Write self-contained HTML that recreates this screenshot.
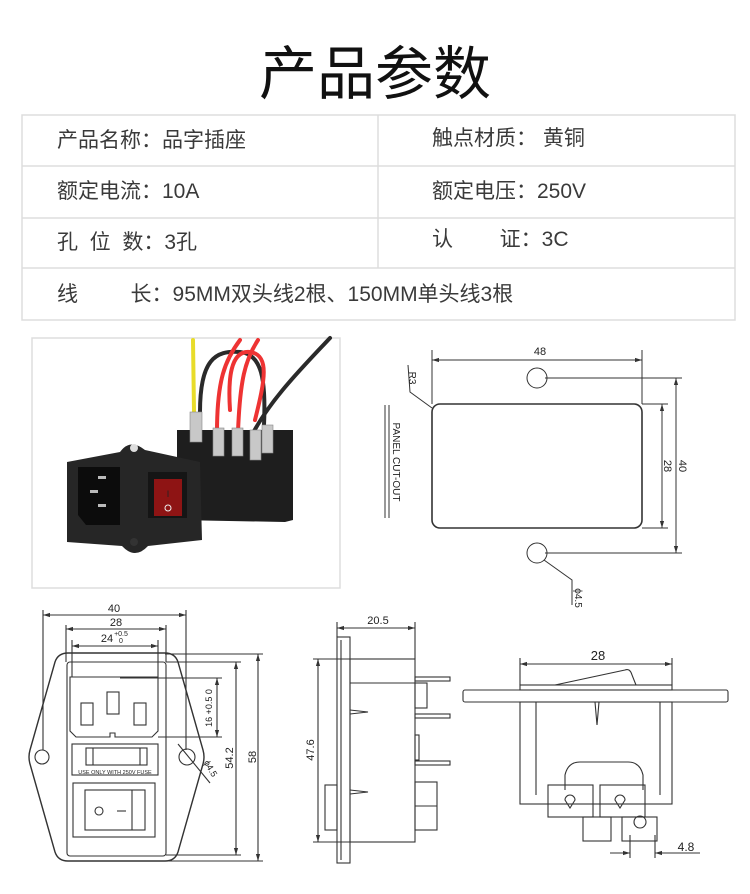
<!DOCTYPE html>
<html><head><meta charset="utf-8"><style>
html,body{margin:0;padding:0;background:#fff;}
svg{display:block;}
.t{font-family:"Liberation Sans","Noto Sans CJK SC",sans-serif;fill:#3a3a3a;white-space:pre;}
.d{font-family:"Liberation Sans",sans-serif;fill:#222;}
</style></head><body>
<svg width="750" height="894" viewBox="0 0 750 894" xmlns="http://www.w3.org/2000/svg">
<defs>
<marker id="a" viewBox="0 0 10 10" refX="10" refY="5" markerWidth="7" markerHeight="7" orient="auto-start-reverse" markerUnits="userSpaceOnUse"><path d="M0 2 L10 5 L0 8 Z" fill="#333"/></marker>
</defs>
<text x="375" y="94" text-anchor="middle" font-size="58" class="t" style="fill:#111">产品参数</text>
<g stroke="#ddd" stroke-width="1.5" fill="none">
<rect x="22" y="115" width="713" height="205"/>
<line x1="22" y1="166" x2="735" y2="166"/><line x1="22" y1="218" x2="735" y2="218"/><line x1="22" y1="268" x2="735" y2="268"/>
<line x1="378" y1="115" x2="378" y2="268"/>
</g>
<g class="t" font-size="21">
<text x="57" y="147" xml:space="preserve">产品名称：品字插座</text>
<text x="432" y="145" xml:space="preserve">触点材质： 黄铜</text>
<text x="57" y="198" xml:space="preserve">额定电流：10A</text>
<text x="432" y="198" xml:space="preserve">额定电压：250V</text>
<text x="57" y="249" xml:space="preserve">孔  位  数：3孔</text>
<text x="432" y="246" xml:space="preserve">认        证：3C</text>
<text x="57" y="301" xml:space="preserve">线         长：95MM双头线2根、150MM单头线3根</text>
</g>
<!-- photo -->
<rect x="32" y="338" width="308" height="250" fill="#fff" stroke="#ddd" stroke-width="1.5"/>
<g fill="none" stroke-width="4" stroke-linecap="round">
<path d="M193 340 L194 412" stroke="#e8dc2a"/>
<path d="M200 412 C200 360 215 350 240 352 C262 354 266 380 264 425" stroke="#2a2a2a"/>
<path d="M217 432 C217 380 225 360 240 340" stroke="#e33"/>
<path d="M238 432 C240 380 245 360 258 340" stroke="#e33"/>
<path d="M255 420 C265 380 270 355 250 352 C230 350 228 380 230 410" stroke="#e33"/>
<path d="M252 435 C270 400 300 370 330 338" stroke="#2a2a2a"/>
</g>
<path d="M177 430 L293 430 L293 520 L285 522 L177 520 Z" fill="#1e1e1e"/>
<g fill="#c8c8c8" stroke="#888" stroke-width="0.6">
<rect x="190" y="412" width="12" height="30"/><rect x="213" y="428" width="11" height="28"/>
<rect x="232" y="428" width="11" height="28"/><rect x="250" y="430" width="11" height="30"/><rect x="262" y="425" width="11" height="28"/>
</g>
<path d="M67 462 L120 452 Q130 438 145 450 L200 462 L202 540 L148 546 Q135 560 122 546 L67 542 Z" fill="#262626"/>
<circle cx="134" cy="448" r="4" fill="#ddd"/>
<path d="M78 467 L120 467 L120 525 L86 525 L78 515 Z" fill="#0c0c0c"/>
<g fill="#bbb"><rect x="98" y="476" width="8" height="3"/><rect x="90" y="490" width="8" height="3"/><rect x="98" y="504" width="8" height="3"/></g>
<rect x="148" y="472" width="39" height="46" fill="#151515"/>
<rect x="154" y="479" width="28" height="37" fill="#8e1414"/>
<text x="168" y="497" text-anchor="middle" font-size="9" fill="#eee" class="d">I</text>
<circle cx="168" cy="508" r="3" fill="none" stroke="#eee" stroke-width="1"/>
<circle cx="134" cy="542" r="4" fill="#333"/>
<!-- panel cutout -->
<g stroke="#333" stroke-width="1" fill="none">
<rect x="432" y="404" width="210" height="124" rx="8" stroke-width="1.6"/>
<circle cx="537" cy="378" r="10"/><circle cx="537" cy="553" r="10"/>
<line x1="432" y1="350" x2="432" y2="404"/><line x1="642" y1="350" x2="642" y2="404"/>
<line x1="432" y1="360" x2="642" y2="360" marker-start="url(#a)" marker-end="url(#a)"/>
<line x1="545" y1="378" x2="682" y2="378"/><line x1="545" y1="553" x2="682" y2="553"/>
<line x1="642" y1="404" x2="668" y2="404"/><line x1="642" y1="528" x2="668" y2="528"/>
<line x1="662" y1="404" x2="662" y2="528" marker-start="url(#a)" marker-end="url(#a)"/><line x1="676" y1="378" x2="676" y2="553" marker-start="url(#a)" marker-end="url(#a)"/>
<path d="M408 365 L410 392 L432 408"/>
<path d="M544 560 L572 580 L572 605"/>
<line x1="385" y1="405" x2="385" y2="518"/><line x1="389" y1="405" x2="389" y2="518"/>
</g>
<text x="540" y="355" font-size="11" text-anchor="middle" class="d">48</text>
<text transform="translate(664,466) rotate(90)" font-size="11" text-anchor="middle" class="d">28</text>
<text transform="translate(679,466) rotate(90)" font-size="11" text-anchor="middle" class="d">40</text>
<text transform="translate(409,378) rotate(90)" font-size="10" text-anchor="middle" class="d">R3</text>
<text transform="translate(393,462) rotate(90)" font-size="10" text-anchor="middle" class="d">PANEL CUT-OUT</text>
<text transform="translate(575,598) rotate(90)" font-size="10" text-anchor="middle" class="d">ϕ4.5</text>
<!-- front drawing -->
<g stroke="#333" stroke-width="1.1" fill="none">
<path d="M68 653 L165 653 Q175 653 178 662 L203 750 Q205 757 203 764 L178 852 Q175 861 165 861 L68 861 Q58 861 55 852 L30 764 Q28 757 30 750 L55 662 Q58 653 68 653 Z" stroke-width="1.4"/>
<rect x="67" y="662" width="99" height="194" rx="3"/>
<circle cx="42" cy="757" r="7"/><circle cx="187" cy="757" r="8"/>
<path d="M70 677 L158 677 L158 731 L152 737 L115 737 L115 733 L110 733 L110 737 L76 737 L70 731 Z"/>
<rect x="81" y="703" width="12" height="22"/><rect x="107" y="692" width="12" height="22"/><rect x="134" y="703" width="12" height="22"/>
<rect x="72" y="744" width="86" height="31"/>
<rect x="86" y="748" width="61" height="17"/><line x1="93" y1="748" x2="93" y2="765"/><line x1="140" y1="748" x2="140" y2="765"/>
<rect x="73" y="783" width="82" height="54"/><rect x="85" y="790" width="60" height="40"/>
<line x1="132" y1="790" x2="132" y2="830"/><circle cx="99" cy="811" r="4"/><line x1="117" y1="811" x2="126" y2="811"/>
<line x1="43" y1="610" x2="43" y2="750"/><line x1="186" y1="610" x2="186" y2="750"/><line x1="43" y1="615" x2="186" y2="615" marker-start="url(#a)" marker-end="url(#a)"/>
<line x1="66" y1="625" x2="66" y2="662"/><line x1="166" y1="625" x2="166" y2="662"/><line x1="66" y1="629" x2="166" y2="629" marker-start="url(#a)" marker-end="url(#a)"/>
<line x1="72" y1="640" x2="72" y2="677"/><line x1="158" y1="640" x2="158" y2="677"/><line x1="72" y1="646" x2="158" y2="646" marker-start="url(#a)" marker-end="url(#a)"/>
<line x1="120" y1="678" x2="222" y2="678"/><line x1="158" y1="737" x2="222" y2="737"/><line x1="217" y1="678" x2="217" y2="737" marker-start="url(#a)" marker-end="url(#a)"/>
<line x1="166" y1="662" x2="241" y2="662"/><line x1="166" y1="855" x2="241" y2="855"/><line x1="236" y1="662" x2="236" y2="855" marker-start="url(#a)" marker-end="url(#a)"/>
<line x1="165" y1="654" x2="263" y2="654"/><line x1="165" y1="861" x2="263" y2="861"/><line x1="258" y1="654" x2="258" y2="861" marker-start="url(#a)" marker-end="url(#a)"/>
<line x1="178" y1="744" x2="210" y2="783"/>
</g>
<text x="114" y="612" font-size="11" text-anchor="middle" class="d">40</text>
<text x="116" y="626" font-size="11" text-anchor="middle" class="d">28</text>
<text x="107" y="642" font-size="11" text-anchor="middle" class="d">24</text>
<text x="121" y="636" font-size="7" text-anchor="middle" class="d">+0.5</text>
<text x="121" y="643" font-size="7" text-anchor="middle" class="d">0</text>
<text x="115" y="774" font-size="5.5" text-anchor="middle" class="d">USE ONLY WITH 250V FUSE</text>
<text transform="translate(212,708) rotate(-90)" font-size="9" text-anchor="middle" class="d">16 +0.5 0</text>
<text transform="translate(233,758) rotate(-90)" font-size="11" text-anchor="middle" class="d">54.2</text>
<text transform="translate(256,757) rotate(-90)" font-size="11" text-anchor="middle" class="d">58</text>
<text transform="translate(208,770) rotate(60)" font-size="9" text-anchor="middle" class="d">ϕ4.5</text>
<!-- side view -->
<g stroke="#333" stroke-width="1.1" fill="none">
<rect x="337" y="637" width="13" height="226"/><line x1="341" y1="640" x2="341" y2="860"/>
<rect x="350" y="659" width="65" height="183"/><line x1="350" y1="683" x2="415" y2="683"/>
<rect x="415" y="677" width="35" height="4"/><rect x="415" y="714" width="35" height="4"/><rect x="415" y="761" width="35" height="4"/>
<rect x="415" y="683" width="12" height="25"/><rect x="415" y="735" width="4" height="25"/>
<rect x="415" y="782" width="22" height="48"/><line x1="415" y1="806" x2="437" y2="806"/>
<rect x="325" y="785" width="12" height="45"/>
<path d="M350 710 L368 712 L350 714"/><path d="M350 790 L368 792 L350 794"/>
<line x1="337" y1="622" x2="337" y2="637"/><line x1="415" y1="622" x2="415" y2="659"/><line x1="337" y1="628" x2="415" y2="628" marker-start="url(#a)" marker-end="url(#a)"/>
<line x1="313" y1="659" x2="350" y2="659"/><line x1="313" y1="842" x2="350" y2="842"/><line x1="318" y1="659" x2="318" y2="842" marker-start="url(#a)" marker-end="url(#a)"/>
</g>
<text x="378" y="624" font-size="11" text-anchor="middle" class="d">20.5</text>
<text transform="translate(314,750) rotate(-90)" font-size="11" text-anchor="middle" class="d">47.6</text>
<!-- switch side view -->
<g stroke="#333" stroke-width="1.1" fill="none">
<rect x="463" y="690" width="265" height="12" rx="2"/>
<rect x="520" y="685" width="152" height="5"/>
<path d="M555 685 L625 670 Q630 668 632 675 L636 685"/>
<rect x="520" y="702" width="152" height="102"/>
<line x1="536" y1="702" x2="536" y2="795"/><line x1="660" y1="702" x2="660" y2="795"/>
<path d="M595 702 L597 725 L599 702"/>
<path d="M565 790 L565 775 Q568 762 580 762 L628 762 Q640 762 643 775 L643 790"/>
<rect x="548" y="785" width="45" height="32"/><rect x="600" y="785" width="45" height="32"/>
<path d="M565 800 a5 5 0 1 1 10 0 l-5 8 z"/><path d="M615 800 a5 5 0 1 1 10 0 l-5 8 z"/>
<rect x="583" y="817" width="28" height="24"/><rect x="622" y="817" width="35" height="24"/>
<circle cx="640" cy="822" r="6"/>
<line x1="520" y1="658" x2="520" y2="685"/><line x1="672" y1="658" x2="672" y2="685"/><line x1="520" y1="664" x2="672" y2="664" marker-start="url(#a)" marker-end="url(#a)"/>
<line x1="630" y1="835" x2="630" y2="858"/><line x1="655" y1="835" x2="655" y2="858"/>
<line x1="610" y1="853" x2="630" y2="853" marker-end="url(#a)"/><line x1="700" y1="853" x2="655" y2="853" marker-end="url(#a)"/>
</g>
<text x="598" y="660" font-size="13" text-anchor="middle" class="d">28</text>
<text x="686" y="851" font-size="12" text-anchor="middle" class="d">4.8</text>
</svg>
</body></html>
